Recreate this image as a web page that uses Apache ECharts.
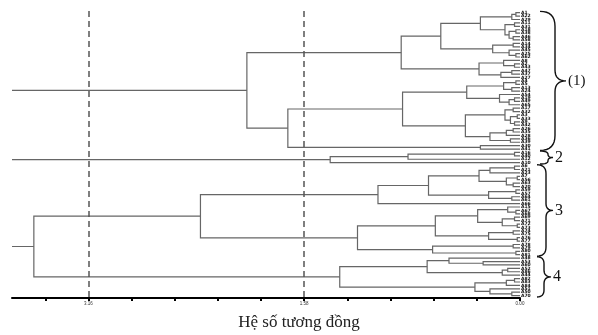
<!DOCTYPE html>
<html>
<head>
<meta charset="utf-8">
<script src="https://cdn.jsdelivr.net/npm/echarts@6/dist/echarts.min.js"></script>
<style>
  html, body { margin: 0; padding: 0; background: #fff; }
  #chart { width: 598px; height: 335px; }
</style>
</head>
<body>
<div id="chart"></div>
<script>
// each node is [height, upper, lower]; a leaf is its label
const cluster1 = [2.0,
  [0.87,
    [0.58,
      [0.29, [0.06, [0.03, 'A1', 'A22'], 'A29'],
             [0.11, [0.04, 'A11', 'A31'], [0.08, [0.03, 'A18', 'A38'], [0.05, 'A46', 'A58']]]],
      [0.20, [0.05, 'A14', 'A34'], [0.08, 'A45', [0.03, 'A25', 'A62']]]],
    [0.30, [0.12, 'A8', [0.04, 'A2', 'A43']], [0.14, [0.06, 'A47', 'A37'], 'A27']]],
  [1.70,
    [0.86,
      [0.39, [0.12, [0.03, 'A4', 'A5'], [0.06, 'A13', 'A24']],
             [0.15, 'A54', [0.08, [0.04, 'A19', 'A49'], 'A65']]],
      [0.40, [0.11, [0.05, 'A17', 'A32'], [0.07, [0.02, 'A3', 'A33'], [0.04, 'A9', 'A42']]],
             [0.22, [0.10, [0.05, 'A26', 'A35'], 'A28'], [0.07, 'A36', 'A39']]]],
    [0.29, 'A30', 'A41']]]

const cluster2 = [1.39, [0.82, [0.04, 'A16', 'A40'], 'A12'], 'A10']

const cluster3 = [2.34,
  [1.04,
    [0.67,
      [0.30, [0.22, [0.04, 'A6', 'A21'], 'A23'], [0.10, [0.02, 'A7', 'A56'], [0.05, 'A63', 'A20']]],
      [0.23, [0.03, 'A59', 'A57'], [0.06, 'A64', 'A61']]],
    'A66'],
  [1.19,
    [0.62,
      [0.31, [0.09, 'A15', [0.03, 'A67', 'A68']], [0.13, [0.04, 'A69', 'A71'], [0.02, 'A72', 'A73']]],
      [0.23, [0.05, 'A74', 'A75'], [0.02, 'A76', 'A77']]],
    [0.64, [0.05, 'A78', 'A79'], [0.03, 'A80', 'A81']]]]

const cluster4 = [1.32,
  [0.68, [0.52, 'A48', [0.27, 'A53', 'A60']], [0.13, [0.09, 'A52', 'A86'], 'A44']],
  [0.33, [0.10, [0.04, 'A82', 'A83'], 'A84'], [0.22, 'A51', [0.06, 'A50', 'A70']]]]

// top joins lie beyond the axis and are cut at its left end
const tree = [4.6, [4.2, cluster1, cluster2], [3.56, cluster3, cluster4]]

const tickStep = 0.316
const tickLabels = [0, 1.58, 3.16]
const cutLines = [3.16, 1.58]
const groupNames = ['(1)', '2', '3', '4']
const groupSizes = [41, 4, 27, 12]

let leaves = []
let links = []

function layout(node) {
  if (typeof node === 'string') {
    leaves.push(node)
    return { h: 0, y: leaves.length - 1 }
  }
  let a = layout(node[1])
  let b = layout(node[2])
  links.push([node[0], a.y, b.y, a.h, b.h])
  return { h: node[0], y: (a.y + b.y) / 2 }
}
layout(tree)

let chart = echarts.init(document.getElementById('chart'))

chart.setOption({
  animation: false,
  title: {
    text: 'Hệ số tương đồng',
    left: 'center',
    top: 309,
    textStyle: { fontFamily: 'Liberation Serif', fontSize: 17, fontWeight: 'normal', color: '#222' }
  },
  grid: { left: 12, right: 78, top: 11, bottom: 37 },
  xAxis: {
    type: 'value',
    inverse: true,
    min: 0,
    max: 3.72,
    interval: tickStep,
    splitLine: { show: false },
    axisLine: { onZero: false, lineStyle: { color: '#000', width: 2 } },
    axisTick: { length: 3, lineStyle: { color: '#000', width: 2 } },
    axisLabel: {
      fontSize: 4.5,
      color: '#333',
      margin: 3,
      showMaxLabel: false,
      formatter: function (v) {
        let hit = tickLabels.find(t => Math.abs(t - v) < 0.01)
        return hit === undefined ? '' : hit.toFixed(2)
      }
    }
  },
  yAxis: { type: 'value', inverse: true, min: -0.5, max: 83.7, show: false },
  series: [
    {
      type: 'custom',
      clip: true,
      silent: true,
      data: links,
      encode: { x: [0, 3, 4], y: [1, 2] },
      renderItem: function (params, api) {
        let p0 = api.coord([api.value(3), api.value(1)])
        let p1 = api.coord([api.value(0), api.value(1)])
        let p2 = api.coord([api.value(0), api.value(2)])
        let p3 = api.coord([api.value(4), api.value(2)])
        return {
          type: 'polyline',
          shape: { points: [p0, p1, p2, p3] },
          style: { stroke: '#666', lineWidth: 1.2, fill: null }
        }
      },
      markLine: {
        silent: true,
        symbol: 'none',
        label: { show: false },
        lineStyle: { type: [6, 4], color: '#555', width: 1.5 },
        data: cutLines.map(v => ({ xAxis: v }))
      }
    },
    {
      type: 'custom',
      silent: true,
      data: leaves.map((n, i) => [0, i]),
      renderItem: function (params, api) {
        let p = api.coord([0, api.value(1)])
        return {
          type: 'text',
          x: p[0] + 1,
          y: p[1],
          style: {
            text: leaves[params.dataIndex],
            fontSize: 4.5,
            fontWeight: 'bold',
            fontFamily: 'DejaVu Sans',
            fill: '#111',
            verticalAlign: 'middle'
          }
        }
      }
    }
  ]
})

// quadratic curve points from a to b with control c
function quad(a, c, b, out) {
  for (let i = 0; i <= 8; i++) {
    let t = i / 8
    out.push([
      (1 - t) * (1 - t) * a[0] + 2 * t * (1 - t) * c[0] + t * t * b[0],
      (1 - t) * (1 - t) * a[1] + 2 * t * (1 - t) * c[1] + t * t * b[1]
    ])
  }
}

// braces with group names on the right
let braceX = [[540, 555, 566], [540, 548, 553], [537, 546, 553], [537, 544, 551]]
let fontSizes = [15, 16, 16, 16]
let graphic = []
let start = 0
groupNames.forEach(function (name, k) {
  let end = start + groupSizes[k] - 1
  let y0 = chart.convertToPixel({ gridIndex: 0 }, [0, start - 0.4])[1]
  let y1 = chart.convertToPixel({ gridIndex: 0 }, [0, end + 0.4])[1]
  let ym = (y0 + y1) / 2
  let [x0, xv, xt] = braceX[k]
  let r = Math.min(xv - x0, (y1 - y0) / 4)
  let t = Math.min(xt - xv, (y1 - y0) / 4)
  let pts = []
  quad([x0, y0], [xv, y0], [xv, y0 + r], pts)
  quad([xv, ym - t], [xv, ym], [xt, ym], pts)
  quad([xt, ym], [xv, ym], [xv, ym + t], pts)
  quad([xv, y1 - r], [xv, y1], [x0, y1], pts)
  graphic.push({
    type: 'polyline',
    shape: { points: pts },
    style: { stroke: '#111', lineWidth: 1.4, fill: null }
  })
  graphic.push({
    type: 'text',
    x: xt + 2,
    y: ym,
    style: {
      text: name,
      fontFamily: 'Liberation Serif',
      fontSize: fontSizes[k],
      fill: '#111',
      verticalAlign: 'middle'
    }
  })
  start = end + 1
})
chart.setOption({ graphic: graphic })
</script>
</body>
</html>
